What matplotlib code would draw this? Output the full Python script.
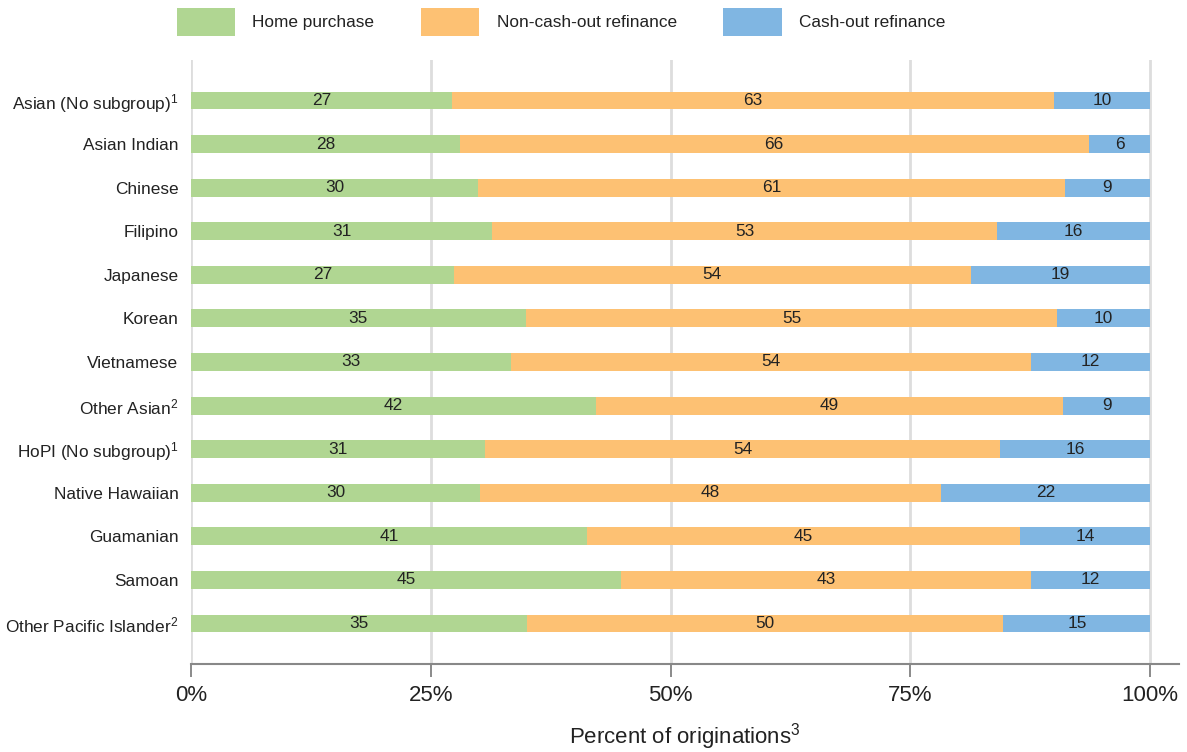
import matplotlib
matplotlib.use("Agg")
import matplotlib.pyplot as plt
from matplotlib.patches import Patch
import numpy as np

plt.rcParams["font.family"] = ["Liberation Sans", "DejaVu Sans"]
plt.rcParams["mathtext.fontset"] = "custom"
plt.rcParams["mathtext.rm"] = "Liberation Sans"
plt.rcParams["mathtext.it"] = "Liberation Sans"

categories = [
    "Asian (No subgroup)$^{1}$",
    "Asian Indian",
    "Chinese",
    "Filipino",
    "Japanese",
    "Korean",
    "Vietnamese",
    "Other Asian$^{2}$",
    "HoPI (No subgroup)$^{1}$",
    "Native Hawaiian",
    "Guamanian",
    "Samoan",
    "Other Pacific Islander$^{2}$",
]
home_purchase = [27.2, 28.0, 29.9, 31.4, 27.4, 34.9, 33.4, 42.2, 30.7, 30.1, 41.3, 44.8, 35.0]
non_cash_out = [62.8, 65.6, 61.2, 52.6, 53.9, 55.4, 54.2, 48.7, 53.6, 48.1, 45.1, 42.8, 49.7]
cash_out = [10.0, 6.4, 8.9, 16.0, 18.7, 9.7, 12.4, 9.1, 15.7, 21.8, 13.6, 12.4, 15.3]

series_names = ["Home purchase", "Non-cash-out refinance", "Cash-out refinance"]
series_colors = ["#B0D692", "#FDC173", "#80B6E2"]
x_ticks = [0, 25, 50, 75, 100]
x_tick_labels = ["0%", "25%", "50%", "75%", "100%"]

text_color = "#222222"
base_size = 12.4

fig = plt.figure(figsize=(11.87, 7.52), dpi=100)
ax = fig.add_axes([191 / 1187, 1 - 664 / 752, 988 / 1187, 604 / 752])

y = np.arange(len(categories))
left = np.zeros(len(categories))
for values, name, color in zip([home_purchase, non_cash_out, cash_out], series_names, series_colors):
    vals = np.array(values)
    bars = ax.barh(y, vals, left=left, height=0.41, color=color, label=name,
                   edgecolor="none", zorder=3)
    ax.bar_label(bars, labels=[f"{v:.0f}" for v in vals], label_type="center",
                 fontsize=base_size, color=text_color)
    left = left + vals

ax.set_xlim(0, 103)
ax.set_ylim(len(categories) - 1 + 0.93, -0.93)

ax.set_yticks(y)
ax.set_yticklabels(categories, fontsize=base_size, color=text_color)
ax.tick_params(axis="y", length=0, pad=9)

ax.set_xticks(x_ticks)
ax.set_xticklabels(x_tick_labels, fontsize=16, color=text_color)
ax.tick_params(axis="x", direction="out", length=9, width=1.2, color="#777777", pad=6)

ax.xaxis.grid(True, color="#DDDDDD", linewidth=2, zorder=0)
ax.set_axisbelow(True)

for side in ["top", "right", "left"]:
    ax.spines[side].set_visible(False)
ax.spines["bottom"].set_color("#888888")
ax.spines["bottom"].set_linewidth(1.5)

ax.set_xlabel("Percent of originations$^{3}$", fontsize=16, color=text_color, labelpad=11)

handles = [Patch(facecolor=c, edgecolor="none", label=n) for n, c in zip(series_names, series_colors)]
fig.legend(handles=handles, loc="center", bbox_to_anchor=(561 / 1187, 1 - 22 / 752),
           ncol=3, frameon=False, fontsize=base_size, handlelength=3.4, handleheight=2.2,
           handletextpad=1.0, columnspacing=2.7, borderpad=0, labelcolor=text_color)

fig.savefig("out.png", dpi=100)
